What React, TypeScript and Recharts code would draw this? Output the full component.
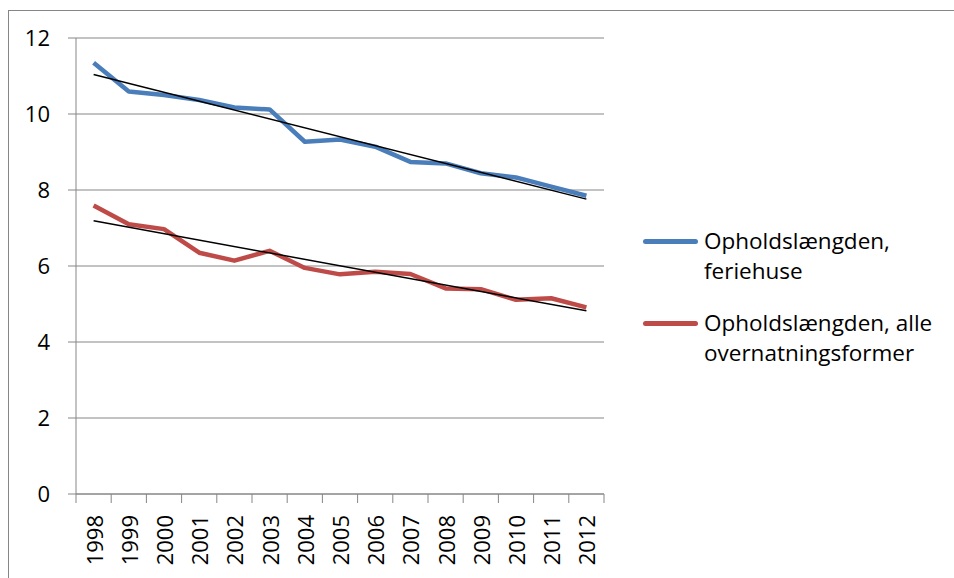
import React from 'react';
import { LineChart, Line, XAxis, YAxis, CartesianGrid } from 'recharts';

// Average length of stay, 1998-2012
const years = ['1998', '1999', '2000', '2001', '2002', '2003', '2004', '2005', '2006', '2007', '2008', '2009', '2010', '2011', '2012'];
const feriehuse = [11.35, 10.59, 10.5, 10.37, 10.17, 10.12, 9.27, 9.33, 9.14, 8.74, 8.7, 8.44, 8.33, 8.09, 7.85];
const alleFormer = [7.59, 7.1, 6.97, 6.35, 6.14, 6.4, 5.95, 5.78, 5.85, 5.79, 5.41, 5.39, 5.11, 5.15, 4.91];

// trend lines: value at first and last year
const trendFeriehuse = [11.04, 7.76];
const trendAlle = [7.19, 4.82];

const yTicks = [0, 2, 4, 6, 8, 10, 12];

const BLUE = '#4A7EBB';
const RED = '#BE4B48';
const GRID = '#868686';
const FONT = '"Open Sans", sans-serif';

const legendItems = [
  { color: BLUE, lines: ['Opholdslængden,', 'feriehuse'] },
  { color: RED, lines: ['Opholdslængden, alle', 'overnatningsformer'] },
];

const last = years.length - 1;
const data = years.map((year, i) => ({
  year,
  feriehuse: feriehuse[i],
  alle: alleFormer[i],
  trendF: i === 0 ? trendFeriehuse[0] : i === last ? trendFeriehuse[1] : null,
  trendA: i === 0 ? trendAlle[0] : i === last ? trendAlle[1] : null,
}));

// Excel style: tick marks between categories, labels rotated
const YearTick = (props: any) => {
  const { x, y, payload, index, width, visibleTicksCount } = props;
  const half = width / visibleTicksCount / 2;
  return (
    <g>
      <line x1={x - half} y1={y} x2={x - half} y2={y + 9} stroke={GRID} strokeWidth={1} />
      {index === visibleTicksCount - 1 && (
        <line x1={x + half} y1={y} x2={x + half} y2={y + 9} stroke={GRID} strokeWidth={1} />
      )}
      <text
        x={x + 1}
        y={y + 21}
        transform={`rotate(-90, ${x + 1}, ${y + 21})`}
        textAnchor="end"
        dy="0.36em"
        fill="#000"
        fontSize={22}
        fontFamily={FONT}
      >
        {payload.value}
      </text>
    </g>
  );
};

export default function App() {
  return (
    <div
      style={{
        position: 'fixed',
        left: 8,
        top: 10,
        width: 946,
        height: 568,
        borderTop: `1px solid ${GRID}`,
        borderLeft: `1px solid ${GRID}`,
        boxSizing: 'border-box',
        background: '#fff',
        fontFamily: FONT,
      }}
    >
      <LineChart width={945} height={567} data={data} margin={{ top: 27, right: 350, left: 7, bottom: 0 }}>
        <CartesianGrid vertical={false} stroke={GRID} strokeWidth={1} />
        <XAxis
          dataKey="year"
          scale="band"
          interval={0}
          height={84}
          tickLine={false}
          tickSize={0}
          tickMargin={0}
          axisLine={{ stroke: GRID }}
          tick={<YearTick />}
        />
        <YAxis
          domain={[0, 12]}
          ticks={yTicks}
          width={60}
          tickSize={8}
          tickMargin={18}
          axisLine={{ stroke: GRID }}
          tickLine={{ stroke: GRID }}
          tick={{ fill: '#000', fontSize: 22, fontFamily: FONT }}
        />
        <Line type="linear" dataKey="feriehuse" stroke={BLUE} strokeWidth={4.5} dot={false} strokeLinejoin="round" isAnimationActive={false} />
        <Line type="linear" dataKey="alle" stroke={RED} strokeWidth={4.5} dot={false} strokeLinejoin="round" isAnimationActive={false} />
        <Line type="linear" dataKey="trendF" stroke="#000" strokeWidth={1.5} dot={false} connectNulls isAnimationActive={false} />
        <Line type="linear" dataKey="trendA" stroke="#000" strokeWidth={1.5} dot={false} connectNulls isAnimationActive={false} />
      </LineChart>

      {/* Legend */}
      <div style={{ position: 'absolute', left: 634, top: 215 }}>
        {legendItems.map((item, i) => (
          <div key={i} style={{ display: 'flex', alignItems: 'flex-start', marginBottom: 22 }}>
            <div
              style={{
                width: 55,
                height: 4.5,
                marginTop: 13,
                borderRadius: 3,
                background: item.color,
              }}
            />
            <div style={{ marginLeft: 6, fontSize: 22.5, lineHeight: '30px', color: '#000' }}>
              {item.lines.map((l, j) => (
                <div key={j}>{l}</div>
              ))}
            </div>
          </div>
        ))}
      </div>
    </div>
  );
}
